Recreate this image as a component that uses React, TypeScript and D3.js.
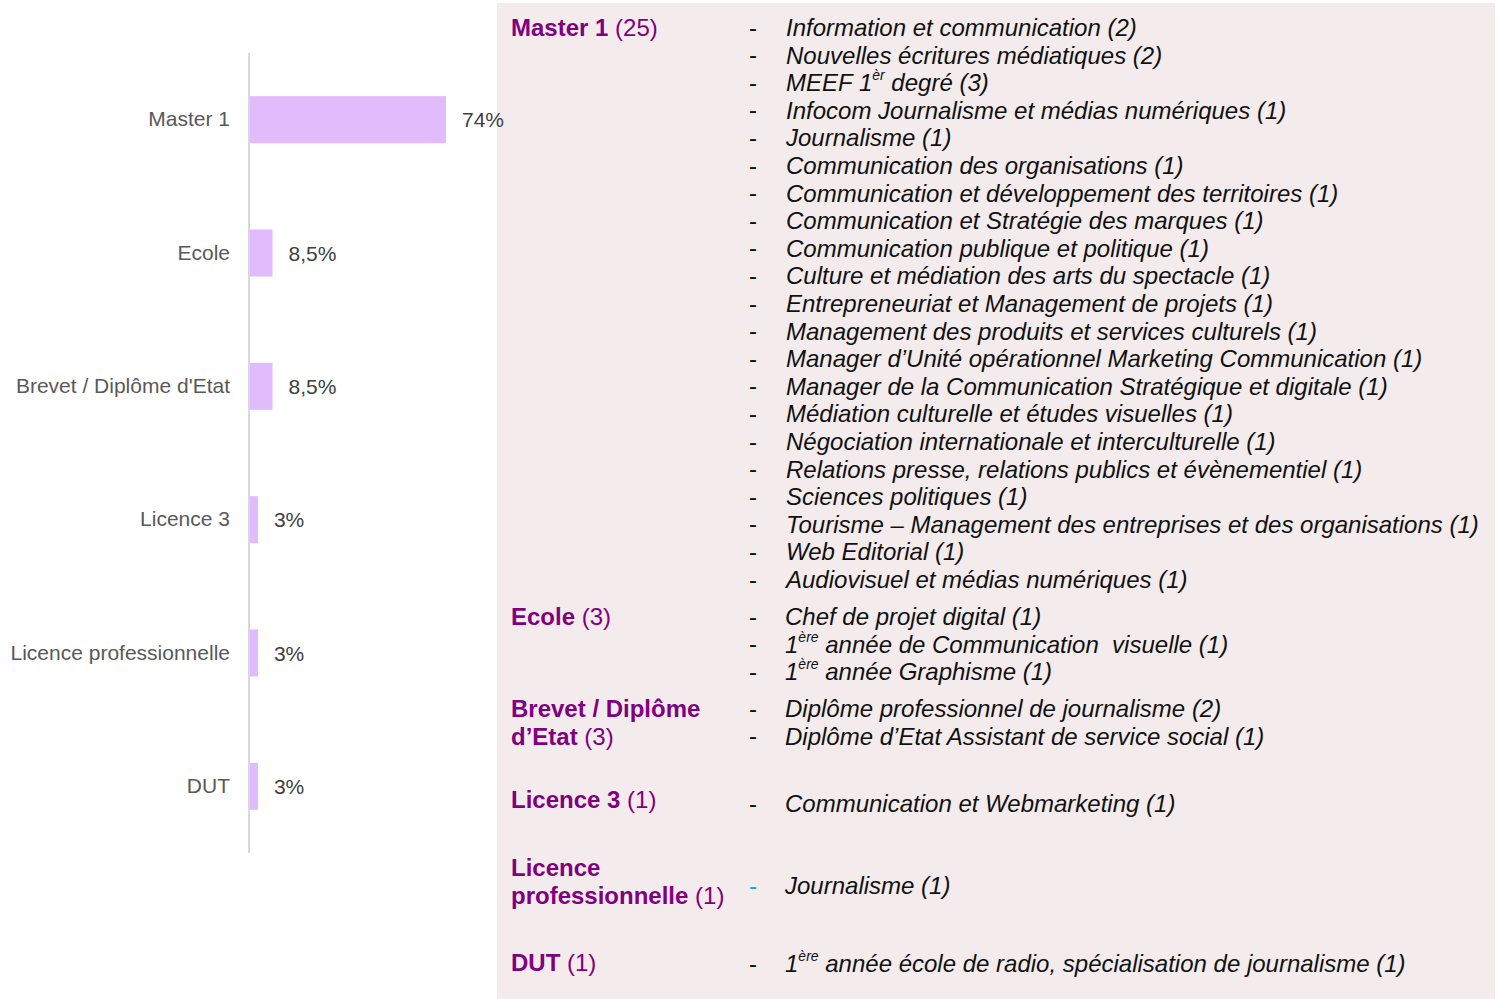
import React from "react"
import * as d3 from "d3"

const categories = ["Master 1", "Ecole", "Brevet / Diplôme d'Etat", "Licence 3", "Licence professionnelle", "DUT"]
const shares = [74, 8.5, 8.5, 3, 3, 3]
const shareLabels = ["74%", "8,5%", "8,5%", "3%", "3%", "3%"]

// right-hand panel: heading lines (bold part, count) and the detail lines
const headings = [["Master 1"], ["Ecole"], ["Brevet / Diplôme", "d’Etat"], ["Licence 3"], ["Licence", "professionnelle"], ["DUT"]]
const counts = [25, 3, 3, 1, 1, 1]
const masterDetails = [
  "Information et communication (2)",
  "Nouvelles écritures médiatiques (2)",
  "MEEF 1{èr} degré (3)",
  "Infocom Journalisme et médias numériques (1)",
  "Journalisme (1)",
  "Communication des organisations (1)",
  "Communication et développement des territoires (1)",
  "Communication et Stratégie des marques (1)",
  "Communication publique et politique (1)",
  "Culture et médiation des arts du spectacle (1)",
  "Entrepreneuriat et Management de projets (1)",
  "Management des produits et services culturels (1)",
  "Manager d’Unité opérationnel Marketing Communication (1)",
  "Manager de la Communication Stratégique et digitale (1)",
  "Médiation culturelle et études visuelles (1)",
  "Négociation internationale et interculturelle (1)",
  "Relations presse, relations publics et évènementiel (1)",
  "Sciences politiques (1)",
  "Tourisme – Management des entreprises et des organisations (1)",
  "Web Editorial (1)",
  "Audiovisuel et médias numériques (1)",
]
const ecoleDetails = ["Chef de projet digital (1)", "1{ère} année de Communication  visuelle (1)", "1{ère} année Graphisme (1)"]
const brevetDetails = ["Diplôme professionnel de journalisme (2)", "Diplôme d’Etat Assistant de service social (1)"]
const licence3Details = ["Communication et Webmarketing (1)"]
const licenceProDetails = ["Journalisme (1)"]
const dutDetails = ["1{ère} année école de radio, spécialisation de journalisme (1)"]
const details = [masterDetails, ecoleDetails, brevetDetails, licence3Details, licenceProDetails, dutDetails]

// layout of the panel (centre y of the first heading line / first detail line)
const headingTop = [27, 616, 708, 799, 867, 962]
const detailTop = [27, 616, 708, 803, 885, 963]

const leftFont = "'Liberation Sans', Arial, Helvetica, sans-serif"
const narrowFont = "'Liberation Sans Narrow', 'Arial Narrow', 'Liberation Sans', sans-serif"

const Rich = ({ s }: { s: string }) => {
  const parts = s.split(/\{([^}]*)\}/)
  return (
    <>
      {parts.map((p, i) =>
        i % 2 === 1 ? (
          <tspan key={i} fontSize={14} dy={-7}>
            {p}
          </tspan>
        ) : (
          <tspan key={i} dy={i > 0 ? 7 : 0}>
            {p}
          </tspan>
        )
      )}
    </>
  )
}

const App = () => {
  const width = 1500
  const height = 999
  const lineH = 27.6

  const y = d3.scaleBand().domain(categories).range([53, 853]).paddingInner(0.647).paddingOuter(0.3235)
  const x = d3.scaleLinear().domain([0, 74]).range([250, 446])

  return (
    <svg width={width} height={height} style={{ position: "absolute", left: 0, top: 0, background: "#fff" }}>
      <rect x={497} y={3} width={998} height={996} fill="#f3ebec" />

      {categories.map((c, i) => {
        const yc = (y(c) as number) + y.bandwidth() / 2
        return (
          <g key={c}>
            <rect x={x(0)} y={y(c)} width={x(shares[i]) - x(0)} height={y.bandwidth()} fill="#e2bbfd" />
            <text x={230} y={yc - 1} textAnchor="end" dominantBaseline="central" fontFamily={leftFont} fontSize={21} fill="#595959">
              {c}
            </text>
            <text x={x(shares[i]) + 16} y={yc} dominantBaseline="central" fontFamily={leftFont} fontSize={21} fill="#404040">
              {shareLabels[i]}
            </text>
          </g>
        )
      })}
      <line x1={249} x2={249} y1={53} y2={853} stroke="#d9d9d9" strokeWidth={2} />

      {headings.map((h, i) => (
        <g key={i} fontFamily={narrowFont} fontSize={24} fill="#800080">
          {h.map((line, j) => (
            <text key={j} x={511} y={headingTop[i] + j * lineH} dominantBaseline="central">
              <tspan fontWeight="bold">{line}</tspan>
              {j === h.length - 1 ? <tspan> ({counts[i]})</tspan> : null}
            </text>
          ))}
        </g>
      ))}

      {details.map((list, i) => (
        <g key={i} fontFamily={narrowFont} fontSize={24} fill="#111">
          {list.map((d, j) => {
            const yy = detailTop[i] + j * lineH
            return (
              <g key={j}>
                <text x={749} y={yy} dominantBaseline="central" fill={i === 4 ? "#00b0f0" : "#111"}>
                  -
                </text>
                <text x={i === 0 ? 786 : 785} y={yy} dominantBaseline="central" fontStyle="italic" style={{ whiteSpace: "pre" }}>
                  <Rich s={d} />
                </text>
              </g>
            )
          })}
        </g>
      ))}
    </svg>
  )
}

export default App
